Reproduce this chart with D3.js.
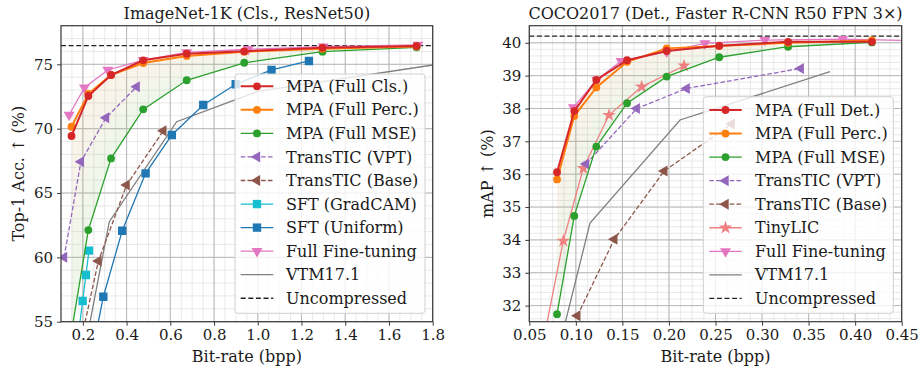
<!DOCTYPE html>
<html><head><meta charset="utf-8">
<script src="https://cdn.jsdelivr.net/npm/d3@7"></script>
<style>
body{margin:0;background:#fff}
svg{display:block}
text{font-family:"DejaVu Serif",serif;fill:#1a1a1a}
</style>
</head><body>
<svg id="chart" width="921" height="373"></svg>
<script>
// ---------------- ImageNet-1K (left) ----------------
const inXTicks = [0.2, 0.4, 0.6, 0.8, 1.0, 1.2, 1.4, 1.6, 1.8];
const inYTicks = [55, 60, 65, 70, 75];
const inMpaX = [0.148, 0.225, 0.329, 0.476, 0.675, 0.938, 1.296, 1.726];
const inMpaCls = [69.43, 72.54, 74.17, 75.31, 75.82, 76.01, 76.29, 76.42];
const inMpaPerc = [70.15, 72.70, 74.17, 75.10, 75.65, 75.98, 76.20, 76.38];
const inMpaMse = [54.2, 62.12, 67.69, 71.50, 73.76, 75.12, 75.98, 76.32];
const inVptX = [0.114, 0.191, 0.306, 0.446];
const inVptY = [60.0, 67.43, 70.85, 73.26];
const inBaseX = [0.19, 0.271, 0.400, 0.568];
const inBaseY = [53.4, 59.72, 65.62, 69.84];
const inGradX = [0.175, 0.199, 0.214, 0.228];
const inGradY = [53.4, 56.61, 58.63, 60.52];
const inUniX = [0.25, 0.2935, 0.380, 0.487, 0.607, 0.7505, 0.899, 1.063, 1.234];
const inUniY = [53.2, 56.94, 62.07, 66.53, 69.51, 71.84, 73.45, 74.56, 75.26];
const inFtX = [0.137, 0.207, 0.314, 0.476, 0.675, 0.956, 1.299, 1.733];
const inFtY = [71.06, 73.18, 74.56, 75.33, 75.93, 76.17, 76.37, 76.50];
const inVtmX = [0.2, 0.321, 0.629, 1.0, 1.9];
const inVtmY = [52.1, 62.77, 70.54, 72.9, 75.2];
const inUncompressed = 76.45;

// ---------------- COCO2017 (right) ----------------
const cocoXTicks = [0.05, 0.10, 0.15, 0.20, 0.25, 0.30, 0.35, 0.40, 0.45];
const cocoYTicks = [32, 33, 34, 35, 36, 37, 38, 39, 40];
const cocoMpaX = [0.0798, 0.0983, 0.122, 0.155, 0.1976, 0.254, 0.328, 0.418];
const cocoMpaDet = [36.06, 37.92, 38.87, 39.47, 39.75, 39.91, 40.03, 40.03];
const cocoMpaPerc = [35.84, 37.77, 38.64, 39.42, 39.83, 39.90, 40.00, 40.07];
const cocoMpaMse = [31.74, 34.73, 36.84, 38.16, 38.97, 39.56, 39.88, 40.01];
const cocoVptX = [0.111, 0.1654, 0.219, 0.3415];
const cocoVptY = [36.31, 38.00, 38.61, 39.22];
const cocoBaseX = [0.1016, 0.1413, 0.195, 0.2674];
const cocoBaseY = [31.69, 34.02, 36.10, 37.53];
const cocoTinyX = [0.06, 0.0865, 0.108, 0.1356, 0.1707, 0.2162];
const cocoTinyY = [30.2, 33.97, 36.18, 37.80, 38.66, 39.30];
const cocoFtX = [0.0973, 0.1224, 0.1485, 0.1976, 0.2387, 0.303, 0.3866, 0.5];
const cocoFtY = [38.03, 38.87, 39.44, 39.73, 39.98, 40.08, 40.11, 40.05];
const cocoVtmX = [0.08, 0.1152, 0.2119, 0.373];
const cocoVtmY = [30.5, 34.51, 37.65, 39.12];
const cocoUncompressed = 40.2;

const C = {red:"#d62728", orange:"#ff7f0e", green:"#2ca02c", purple:"#9467bd", brown:"#8c564b",
  pink:"#e377c2", gray:"#7f7f7f", cyan:"#17becf", blue:"#1f77b4", salmon:"#f08080"};

const svg = d3.select("#chart");
let clipCount = 0;

function markerPath(kind) {
  switch (kind) {
    case "circle": return d3.symbol(d3.symbolCircle, 48)();
    case "square": return d3.symbol(d3.symbolSquare, 70)();
    case "tri": return d3.symbol(d3.symbolTriangle, 52)();
    case "star": return d3.symbol(d3.symbolStar, 56)();
  }
  return null;
}
function markerRot(kind, dir) {
  if (kind !== "tri") return 0;
  return dir === "left" ? -90 : 180;
}

function drawChart(cfg) {
  const x = d3.scaleLinear().domain(cfg.xDomain).range([cfg.left, cfg.right]);
  const y = d3.scaleLinear().domain(cfg.yDomain).range([cfg.bottom, cfg.top]);
  const g = svg.append("g");
  const cid = "clip" + (clipCount++);
  g.append("clipPath").attr("id", cid).append("rect")
    .attr("x", cfg.left).attr("y", cfg.top)
    .attr("width", cfg.right - cfg.left).attr("height", cfg.bottom - cfg.top);

  // grid
  const grid = g.append("g");
  const xMinor = d3.range(cfg.xDomain[0], cfg.xDomain[1] + 1e-9, cfg.xMinorStep);
  const yMinor = d3.range(Math.ceil(cfg.yDomain[0] / cfg.yMinorStep) * cfg.yMinorStep, cfg.yDomain[1] + 1e-9, cfg.yMinorStep);
  grid.selectAll(".xm").data(xMinor).join("line")
    .attr("x1", d => x(d)).attr("x2", d => x(d)).attr("y1", cfg.top).attr("y2", cfg.bottom)
    .attr("stroke", "#e3e3e3").attr("stroke-width", 0.8);
  grid.selectAll(".ym").data(yMinor).join("line")
    .attr("y1", d => y(d)).attr("y2", d => y(d)).attr("x1", cfg.left).attr("x2", cfg.right)
    .attr("stroke", "#e3e3e3").attr("stroke-width", 0.8);
  grid.selectAll(".xM").data(cfg.xTicks).join("line")
    .attr("x1", d => x(d)).attr("x2", d => x(d)).attr("y1", cfg.top).attr("y2", cfg.bottom)
    .attr("stroke", "#b8b8b8").attr("stroke-width", 1);
  grid.selectAll(".yM").data(cfg.yTicks).join("line")
    .attr("y1", d => y(d)).attr("y2", d => y(d)).attr("x1", cfg.left).attr("x2", cfg.right)
    .attr("stroke", "#b8b8b8").attr("stroke-width", 1);

  const plot = g.append("g").attr("clip-path", `url(#${cid})`);

  // gradient band between upper and lower MPA curves
  const N = 14;
  const cI = d3.interpolateRgb("#e0a055", "#6cbf5c");
  const bx = cfg.band.x, up = cfg.band.upper, lo = cfg.band.lower;
  for (let k = 0; k < N; k++) {
    const t0 = k / N, t1 = (k + 1) / N;
    const area = d3.area()
      .x((d, i) => x(bx[i]))
      .y0((d, i) => y(up[i] + (lo[i] - up[i]) * t0))
      .y1((d, i) => y(up[i] + (lo[i] - up[i]) * t1));
    plot.append("path").attr("d", area(bx))
      .attr("fill", cI((k + 0.5) / N)).attr("fill-opacity", 0.12);
  }

  // uncompressed
  plot.append("line")
    .attr("x1", cfg.left).attr("x2", cfg.right)
    .attr("y1", y(cfg.uncompressed)).attr("y2", y(cfg.uncompressed))
    .attr("stroke", "#222").attr("stroke-width", 1.3).attr("stroke-dasharray", "5,2.6");

  // series (draw in reverse so first legend entry is on top)
  const line = d3.line().x(d => x(d[0])).y(d => y(d[1]));
  cfg.series.slice().reverse().forEach(s => {
    const pts = s.x.map((v, i) => [v, s.y[i]]);
    plot.append("path").attr("d", line(pts)).attr("fill", "none")
      .attr("stroke", s.color).attr("stroke-width", s.lw || 1.3)
      .attr("stroke-dasharray", s.dash ? "4.6,2.2" : null);
    if (s.marker) {
      plot.selectAll(null).data(pts).join("path")
        .attr("d", markerPath(s.marker))
        .attr("transform", d => `translate(${x(d[0])},${y(d[1])}) rotate(${markerRot(s.marker, s.dir)})`)
        .attr("fill", s.color);
    }
  });

  // spines
  g.append("rect").attr("x", cfg.left).attr("y", cfg.top)
    .attr("width", cfg.right - cfg.left).attr("height", cfg.bottom - cfg.top)
    .attr("fill", "none").attr("stroke", "#3a3a3a").attr("stroke-width", 1.2);

  // axes
  const fs = "16px", tfs = "15px";
  const xa = g.append("g").attr("transform", `translate(0,${cfg.bottom})`)
    .call(d3.axisBottom(x).tickValues(cfg.xTicks).tickFormat(d3.format(cfg.xFmt)).tickSize(4).tickPadding(4));
  const ya = g.append("g").attr("transform", `translate(${cfg.left},0)`)
    .call(d3.axisLeft(y).tickValues(cfg.yTicks).tickFormat(d3.format("d")).tickSize(4).tickPadding(4));
  [xa, ya].forEach(a => {
    a.select(".domain").remove();
    a.selectAll(".tick line").attr("stroke", "#3a3a3a").attr("stroke-width", 1);
    a.selectAll("text").style("font-family", '"DejaVu Serif",serif').style("font-size", tfs).attr("fill", "#1a1a1a");
  });

  // titles
  g.append("text").attr("x", (cfg.left + cfg.right) / 2).attr("y", 18.5)
    .attr("text-anchor", "middle").style("font-size", fs).text(cfg.title);
  g.append("text").attr("x", (cfg.left + cfg.right) / 2).attr("y", 362)
    .attr("text-anchor", "middle").style("font-size", fs).text(cfg.xLabel);
  g.append("text").attr("transform", `translate(${cfg.yLabelX},${(cfg.top + cfg.bottom) / 2}) rotate(-90)`)
    .attr("text-anchor", "middle").attr("dy", "0.35em").style("font-size", fs).text(cfg.yLabel);

  // legend
  const L = cfg.legend;
  const lg = g.append("g");
  lg.append("rect").attr("x", L.x0).attr("y", L.y0).attr("width", L.x1 - L.x0).attr("height", L.y1 - L.y0)
    .attr("rx", 3).attr("fill", "#fff").attr("fill-opacity", 0.8).attr("stroke", "#d0d0d0").attr("stroke-width", 1);
  L.items.forEach((s, i) => {
    const yy = L.firstY + i * L.step;
    lg.append("line").attr("x1", L.hx0).attr("x2", L.hx1).attr("y1", yy).attr("y2", yy)
      .attr("stroke", s.color).attr("stroke-width", s.lw || 1.3)
      .attr("stroke-dasharray", s.dash ? (s.black ? "5,2.6" : "4.6,2.2") : null);
    if (s.marker) {
      lg.append("path").attr("d", markerPath(s.marker))
        .attr("transform", `translate(${(L.hx0 + L.hx1) / 2},${yy}) rotate(${markerRot(s.marker, s.dir)})`)
        .attr("fill", s.color);
    }
    lg.append("text").attr("x", L.tx).attr("y", yy).attr("dy", "0.35em").style("font-size", fs).text(s.label);
  });
}

// ---- left chart ----
const inSeries = [
  {label: "MPA (Full Cls.)", x: inMpaX, y: inMpaCls, color: C.red, marker: "circle", lw: 2},
  {label: "MPA (Full Perc.)", x: inMpaX, y: inMpaPerc, color: C.orange, marker: "circle", lw: 2},
  {label: "MPA (Full MSE)", x: inMpaX, y: inMpaMse, color: C.green, marker: "circle", lw: 1.3},
  {label: "TransTIC (VPT)", x: inVptX, y: inVptY, color: C.purple, marker: "tri", dir: "left", dash: true},
  {label: "TransTIC (Base)", x: inBaseX, y: inBaseY, color: C.brown, marker: "tri", dir: "left", dash: true},
  {label: "SFT (GradCAM)", x: inGradX, y: inGradY, color: C.cyan, marker: "square"},
  {label: "SFT (Uniform)", x: inUniX, y: inUniY, color: C.blue, marker: "square"},
  {label: "Full Fine-tuning", x: inFtX, y: inFtY, color: C.pink, marker: "tri", dir: "down"},
  {label: "VTM17.1", x: inVtmX, y: inVtmY, color: C.gray}
];
drawChart({
  left: 61, right: 432.7, top: 25.7, bottom: 321.7,
  xDomain: [0.1, 1.8], yDomain: [55, 78],
  xTicks: inXTicks, yTicks: inYTicks, xMinorStep: 0.05, yMinorStep: 1, xFmt: ".1f",
  title: "ImageNet-1K (Cls., ResNet50)", xLabel: "Bit-rate (bpp)", yLabel: "Top-1 Acc. ↑ (%)", yLabelX: 18,
  series: inSeries,
  band: {x: inMpaX, upper: inMpaCls, lower: inMpaMse},
  uncompressed: inUncompressed,
  legend: {x0: 235, y0: 74, x1: 425, y1: 313.3, firstY: 86.3, step: 23.55, hx0: 240.7, hx1: 273.3, tx: 286,
    items: inSeries.concat([{label: "Uncompressed", color: "#222", dash: true, black: true}])}
});

// ---- right chart ----
const cocoSeries = [
  {label: "MPA (Full Det.)", x: cocoMpaX, y: cocoMpaDet, color: C.red, marker: "circle", lw: 2},
  {label: "MPA (Full Perc.)", x: cocoMpaX, y: cocoMpaPerc, color: C.orange, marker: "circle", lw: 2},
  {label: "MPA (Full MSE)", x: cocoMpaX, y: cocoMpaMse, color: C.green, marker: "circle", lw: 1.3},
  {label: "TransTIC (VPT)", x: cocoVptX, y: cocoVptY, color: C.purple, marker: "tri", dir: "left", dash: true},
  {label: "TransTIC (Base)", x: cocoBaseX, y: cocoBaseY, color: C.brown, marker: "tri", dir: "left", dash: true},
  {label: "TinyLIC", x: cocoTinyX, y: cocoTinyY, color: C.salmon, marker: "star"},
  {label: "Full Fine-tuning", x: cocoFtX, y: cocoFtY, color: C.pink, marker: "tri", dir: "down"},
  {label: "VTM17.1", x: cocoVtmX, y: cocoVtmY, color: C.gray}
];
drawChart({
  left: 529.3, right: 901.7, top: 25.7, bottom: 321.7,
  xDomain: [0.05, 0.45], yDomain: [31.51, 40.52],
  xTicks: cocoXTicks, yTicks: cocoYTicks, xMinorStep: 0.0125, yMinorStep: 0.2, xFmt: ".2f",
  title: "COCO2017 (Det., Faster R-CNN R50 FPN 3×)", xLabel: "Bit-rate (bpp)", yLabel: "mAP ↑ (%)", yLabelX: 487,
  series: cocoSeries,
  band: {x: cocoMpaX, upper: cocoMpaDet, lower: cocoMpaMse},
  uncompressed: cocoUncompressed,
  legend: {x0: 703.3, y0: 96.7, x1: 893.3, y1: 313.3, firstY: 110, step: 23.55, hx0: 709.3, hx1: 741.7, tx: 755,
    items: cocoSeries.concat([{label: "Uncompressed", color: "#222", dash: true, black: true}])}
});
</script>
</body></html>
